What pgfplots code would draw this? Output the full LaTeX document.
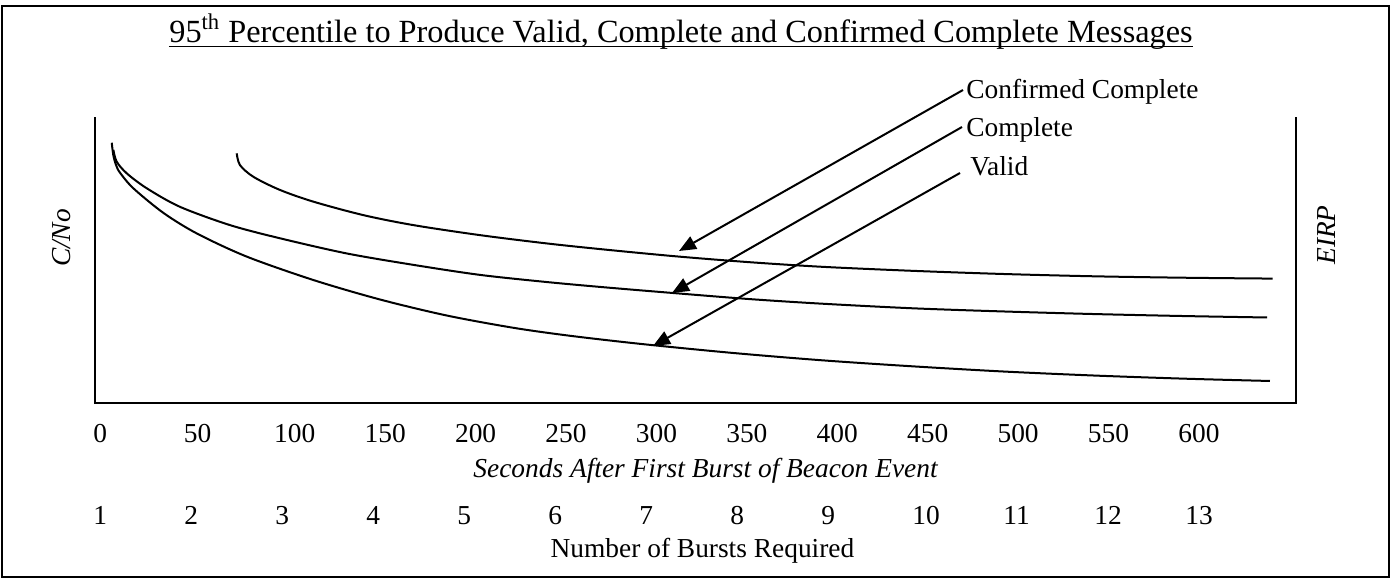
\documentclass[border=0pt]{standalone}
\usepackage{fontspec}
\setmainfont{Liberation Serif}
\usepackage{pgfplots}
\pgfplotsset{compat=1.18}
\usetikzlibrary{arrows.meta}

\pgfplotstableread{
x y
6.5 91.0
7.4 86.5
9.0 83.0
11.1 80.5
18.4 75.1
35.0 66.5
53.5 59.3
81.1 51.2
118.0 43.0
154.8 36.2
191.7 30.6
228.6 26.3
260 23.5
300 20.6
350 17.5
400 14.9
450 12.8
500 11.0
550 9.6
600 8.5
647 7.7
}\validdata

\pgfplotstableread{
x y
7.4 88.5
9.2 84.4
14.8 80.3
25.8 75.1
44.2 68.6
71.9 62.2
99.5 57.6
136.4 52.3
173.3 48.3
210.1 44.8
247 42.3
280 40.4
320 38.3
360 36.3
400 34.7
450 33.1
500 32.0
550 31.1
600 30.4
645.4 29.9
}\completedata

\pgfplotstableread{
x y
75.6 87.3
77.4 83.2
84.8 79.1
99.5 74.5
118.0 70.4
145.6 65.7
173.3 62.2
210.1 58.7
247 55.8
280 53.6
320 51.2
360 49.2
400 47.6
450 46.2
500 45.1
550 44.3
600 43.8
648.5 43.5
}\confirmeddata

\begin{document}
\fontsize{13.7}{16}\selectfont
\begin{tikzpicture}[x=0.5pt,y=0.5pt]
\useasboundingbox (0,0) rectangle (1392,580);
\draw[line width=1.2pt] (2,3) rectangle (1389,574);

\node[anchor=base, inner sep=0, font=\fontsize{16.15}{19}\selectfont] (title) at (681,538)
  {95\textsuperscript{th} Percentile to Produce Valid, Complete and Confirmed Complete Messages};
\draw[line width=0.7pt] ([yshift=-2.2pt]title.base west) -- ([yshift=-2.2pt]title.base east);

\begin{axis}[at={(47.5pt,88.5pt)}, anchor=south west, scale only axis,
  width=600.5pt, height=143pt,
  xmin=-2.765, xmax=661.4, ymin=0, ymax=100,
  axis line style={draw=none}, ytick=\empty,
  xtick={0,50,100,150,200,250,300,350,400,450,500,550,600},
  xticklabels={0,50,100,150,200,250,300,350,400,450,500,550,600},
  major tick length=0pt,
  xticklabel style={anchor=base west, inner sep=0pt, xshift=-3.5pt, yshift=-19.75pt, font=\fontsize{13.7}{16}\selectfont},
  xlabel={Seconds After First Burst of Beacon Event},
  xlabel style={at={(axis description cs:0.5,0)}, anchor=base, xshift=5pt, yshift=-37pt, font=\fontsize{13.7}{16}\selectfont\itshape},
  clip=false]
\addplot[line width=1pt, smooth, no markers] table[x=x,y=y] {\validdata};
\addplot[line width=1pt, smooth, no markers] table[x=x,y=y] {\completedata};
\addplot[line width=1pt, smooth, no markers] table[x=x,y=y] {\confirmeddata};
\draw[line width=1pt] (rel axis cs:0,1) -- (rel axis cs:0,0) -- (rel axis cs:1,0) -- (rel axis cs:1,1);
\end{axis}

\begin{axis}[at={(47.5pt,88.5pt)}, anchor=south west, scale only axis,
  width=600.5pt, height=143pt,
  xmin=0.945, xmax=14.143, ymin=0, ymax=100,
  axis line style={draw=none}, ytick=\empty,
  xtick={1,2,3,4,5,6,7,8,9,10,11,12,13},
  xticklabels={1,2,3,4,5,6,7,8,9,10,11,12,13},
  major tick length=0pt,
  xticklabel style={anchor=base west, inner sep=0pt, xshift=-3.5pt, yshift=-60.75pt, font=\fontsize{13.7}{16}\selectfont},
  xlabel={Number of Bursts Required},
  xlabel style={at={(axis description cs:0.5,0)}, anchor=base, xshift=3.5pt, yshift=-77pt, font=\fontsize{13.7}{16}\selectfont}]
\end{axis}

\node[rotate=90, font=\itshape] at (62,342) {C/No};
\node[rotate=90, font=\itshape] at (1327,345) {EIRP};

\draw[line width=1pt, -{Triangle[length=8.5pt,width=7pt]}] (963,490) -- (679,329);
\draw[line width=1pt, -{Triangle[length=8.5pt,width=7pt]}] (962,453) -- (672,287);
\draw[line width=1pt, -{Triangle[length=8.5pt,width=7pt]}] (960,407) -- (653,234);

\node[anchor=base west, inner sep=0] at (966,482) {Confirmed Complete};
\node[anchor=base west, inner sep=0] at (966,444) {Complete};
\node[anchor=base west, inner sep=0] at (970,405) {Valid};
\end{tikzpicture}
\end{document}
